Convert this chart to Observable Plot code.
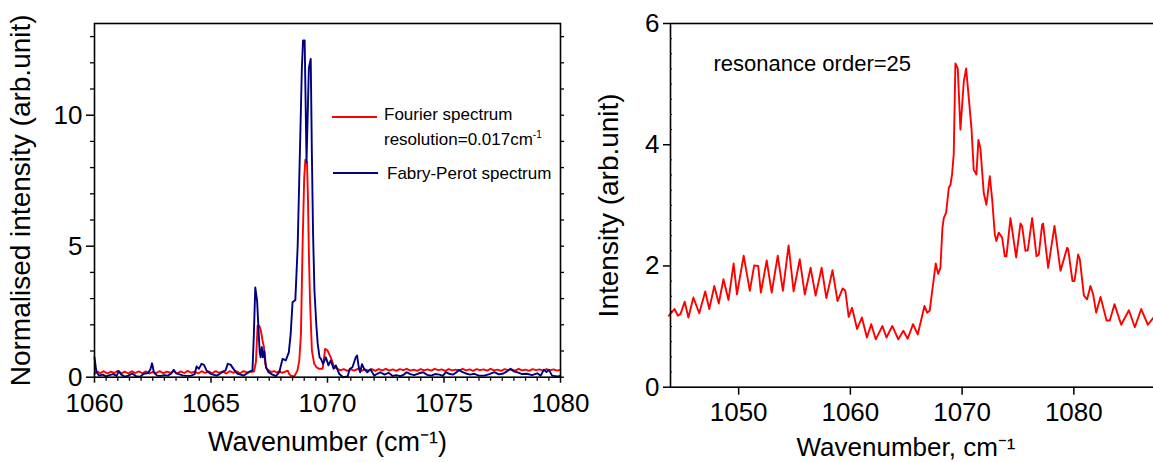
<!DOCTYPE html>
<html>
<head>
<meta charset="utf-8">
<script src="https://cdn.jsdelivr.net/npm/d3@7"></script>
<script src="https://cdn.jsdelivr.net/npm/@observablehq/plot@0.6"></script>
<style>
  html, body { margin: 0; padding: 0; background: #fff; }
  body { font-family: "Liberation Sans", Arial, sans-serif; }
  #wrap { position: relative; width: 1153px; height: 462px; overflow: hidden; background: #fff; }
  #left { position: absolute; left: 0; top: 0; }
  #right { position: absolute; left: 580px; top: 0; width: 573px; overflow: hidden; }
  .lg { position: absolute; font-size: 17px; line-height: 17px; white-space: nowrap; color: #000; }
  .sw { position: absolute; height: 2px; width: 45px; }
  .lg sup { font-size: 10px; vertical-align: 7px; line-height: 0; }
</style>
</head>
<body>
<div id="wrap">
  <div id="left"></div>
  <div id="right"></div>
  <div class="sw" style="left:332px;top:115.7px;background:#ff0000"></div>
  <div class="lg" style="left:384px;top:105.6px">Fourier spectrum</div>
  <div class="lg" style="left:384px;top:130.6px">resolution=0.017cm<sup>-1</sup></div>
  <div class="sw" style="left:333px;top:171.7px;background:#000080"></div>
  <div class="lg" style="left:387px;top:165px">Fabry-Perot spectrum</div>
</div>
<script>
// ---------- Left panel data ----------
const fourierWave = [
  1060.00,1060.12,1060.25,1060.40,1060.55,1060.70,1060.85,1061.00,1061.15,1061.30,
  1061.45,1061.60,1061.75,1061.90,1062.05,1062.20,1062.35,1062.50,1062.65,1062.80,
  1062.95,1063.10,1063.25,1063.40,1063.55,1063.70,1063.85,1064.00,1064.15,1064.30,
  1064.45,1064.60,1064.75,1064.90,1065.05,1065.20,1065.35,1065.50,1065.65,1065.80,
  1065.95,1066.10,1066.25,1066.40,1066.55,1066.70,1066.85,1066.93,1067.00,1067.07,
  1067.14,1067.21,1067.27,1067.33,1067.39,1067.50,1067.60,1067.71,1067.82,1067.93,
  1068.04,1068.14,1068.29,1068.36,1068.43,1068.57,1068.71,1068.79,1068.86,1068.93,
  1069.00,1069.05,1069.12,1069.16,1069.20,1069.25,1069.33,1069.43,1069.53,1069.64,
  1069.79,1069.86,1069.90,1070.00,1070.14,1070.29,1070.43,1070.55,1070.70,1070.85,
  1071.00,1071.15,1071.30,1071.45,1071.60,1071.75,1071.90,1072.05,1072.20,1072.35,
  1072.50,1072.65,1072.80,1072.95,1073.10,1073.25,1073.40,1073.55,1073.70,1073.85,
  1074.00,1074.15,1074.30,1074.45,1074.60,1074.75,1074.90,1075.05,1075.20,1075.35,
  1075.50,1075.65,1075.80,1075.95,1076.10,1076.25,1076.40,1076.55,1076.70,1076.85,
  1077.00,1077.15,1077.30,1077.45,1077.60,1077.75,1077.90,1078.05,1078.20,1078.35,
  1078.50,1078.65,1078.80,1078.95,1079.10,1079.25,1079.40,1079.55,1079.70,1079.85,
  1080.00
];
const fourierInt = [
  0.13,0.22,0.15,0.23,0.14,0.21,0.16,0.24,0.15,0.21,
  0.14,0.23,0.16,0.22,0.15,0.22,0.14,0.20,0.16,0.23,
  0.15,0.21,0.17,0.23,0.14,0.22,0.16,0.24,0.17,0.21,
  0.14,0.23,0.16,0.22,0.15,0.23,0.17,0.21,0.14,0.23,
  0.17,0.22,0.15,0.23,0.18,0.21,0.22,0.60,1.97,1.97,
  1.78,1.40,1.15,0.51,0.32,0.25,0.20,0.23,0.18,0.23,
  0.17,0.19,0.25,0.12,0.06,0.03,0.25,0.64,1.65,5.00,
  7.60,8.30,8.20,6.90,4.80,2.90,1.02,0.51,0.38,0.32,
  0.32,0.80,1.08,1.02,0.76,0.38,0.32,0.26,0.31,0.24,
  0.30,0.25,0.32,0.24,0.30,0.26,0.31,0.24,0.31,0.26,
  0.32,0.25,0.30,0.24,0.31,0.27,0.32,0.25,0.29,0.24,
  0.31,0.26,0.30,0.25,0.32,0.27,0.30,0.24,0.31,0.26,
  0.29,0.25,0.32,0.26,0.30,0.24,0.31,0.27,0.30,0.25,
  0.32,0.26,0.29,0.24,0.31,0.27,0.30,0.25,0.32,0.26,
  0.29,0.24,0.31,0.27,0.30,0.25,0.31,0.26,0.30,0.25,
  0.28
];
const fpWave = [
  1060.00,1060.08,1060.20,1060.35,1060.50,1060.65,1060.80,1060.95,1061.04,1061.15,
  1061.30,1061.45,1061.62,1061.78,1061.95,1062.12,1062.30,1062.40,1062.47,1062.55,
  1062.69,1062.85,1063.00,1063.15,1063.30,1063.40,1063.50,1063.62,1063.78,1063.98,
  1064.15,1064.30,1064.38,1064.48,1064.59,1064.70,1064.81,1064.98,1065.12,1065.26,
  1065.40,1065.52,1065.62,1065.72,1065.84,1065.98,1066.12,1066.27,1066.40,1066.55,
  1066.70,1066.78,1066.84,1066.90,1066.98,1067.04,1067.09,1067.13,1067.18,1067.23,
  1067.29,1067.36,1067.47,1067.64,1067.79,1067.93,1068.07,1068.21,1068.34,1068.42,
  1068.50,1068.62,1068.72,1068.80,1068.90,1068.95,1069.02,1069.10,1069.20,1069.28,
  1069.33,1069.38,1069.44,1069.52,1069.58,1069.66,1069.72,1069.81,1069.93,1070.04,
  1070.14,1070.26,1070.36,1070.50,1070.67,1070.86,1070.96,1071.07,1071.21,1071.27,
  1071.33,1071.40,1071.48,1071.57,1071.71,1071.84,1072.00,1072.14,1072.27,1072.45,
  1072.62,1072.80,1072.95,1073.13,1073.28,1073.40,1073.55,1073.72,1073.90,1074.10,
  1074.28,1074.45,1074.62,1074.80,1074.95,1075.08,1075.25,1075.40,1075.55,1075.64,
  1075.78,1075.95,1076.12,1076.30,1076.50,1076.73,1076.95,1077.16,1077.35,1077.55,
  1077.70,1077.85,1078.00,1078.13,1078.35,1078.56,1078.78,1079.00,1079.15,1079.28,
  1079.40,1079.50,1079.64,1079.86,1080.00
];
const fpInt = [
  0.76,0.20,0.06,0.10,0.03,0.08,0.12,0.05,0.23,0.10,
  0.02,0.06,0.14,0.04,0.02,0.13,0.16,0.30,0.53,0.18,
  0.06,0.05,0.08,0.06,0.14,0.28,0.15,0.12,0.07,0.05,
  0.06,0.12,0.41,0.32,0.51,0.47,0.25,0.13,0.09,0.06,
  0.14,0.22,0.25,0.51,0.48,0.30,0.14,0.10,0.06,0.15,
  0.23,0.25,1.65,3.43,2.90,1.80,0.95,0.76,1.15,0.76,
  1.00,0.38,0.19,0.10,0.04,0.19,0.70,0.64,0.95,1.65,
  2.86,2.95,5.00,8.00,11.80,12.85,12.85,8.20,11.80,12.15,
  8.50,5.50,3.30,2.00,1.27,0.76,0.70,0.51,0.76,0.45,
  0.64,0.32,0.45,0.13,0.00,0.03,0.32,0.38,0.75,0.83,
  0.45,0.19,0.50,0.32,0.19,0.30,0.06,0.13,0.19,0.10,
  0.17,0.05,0.08,0.04,0.10,0.19,0.12,0.08,0.14,0.19,
  0.09,0.06,0.12,0.10,0.05,0.19,0.12,0.10,0.20,0.28,
  0.20,0.14,0.10,0.13,0.06,0.06,0.12,0.19,0.11,0.14,
  0.22,0.32,0.22,0.19,0.12,0.13,0.08,0.15,0.06,0.28,
  0.20,0.28,0.06,0.03,0.05
];
const leftXTicks = [1060, 1065, 1070, 1075, 1080];
const leftYTicks = [0, 5, 10];

// ---------- Right panel data ----------
const orderWave = [
  1043.75,1044.26,1044.56,1044.80,1045.17,1045.50,1045.95,1046.47,1047.01,1047.37,
  1047.82,1048.22,1048.64,1049.09,1049.55,1049.85,1050.45,1051.00,1051.39,1051.75,
  1051.99,1052.51,1052.96,1053.50,1053.96,1054.47,1054.92,1055.47,1055.92,1056.44,
  1056.89,1057.43,1057.85,1058.40,1058.85,1059.31,1059.55,1059.85,1060.15,1060.60,
  1061.03,1061.48,1061.87,1062.27,1062.87,1063.23,1063.75,1064.29,1064.74,1065.13,
  1065.61,1066.03,1066.63,1066.87,1067.10,1067.25,1067.64,1067.85,1068.06,1068.24,
  1068.36,1068.57,1068.81,1068.96,1069.10,1069.25,1069.40,1069.61,1069.85,1070.15,
  1070.36,1070.60,1070.84,1071.04,1071.28,1071.46,1071.64,1071.94,1072.18,1072.48,
  1072.69,1072.93,1073.07,1073.28,1073.58,1073.82,1073.97,1074.33,1074.84,1075.22,
  1075.37,1075.67,1075.88,1076.27,1076.66,1076.87,1077.16,1077.25,1077.70,1078.27,
  1078.81,1079.40,1079.49,1079.88,1080.06,1080.39,1080.54,1080.90,1081.19,1081.49,
  1081.73,1082.00,1082.39,1082.93,1083.22,1083.64,1084.24,1084.93,1085.46,1086.03,
  1086.63,1087.13
];
const orderInt = [
  1.18,1.29,1.18,1.21,1.41,1.15,1.48,1.22,1.58,1.29,
  1.67,1.38,1.78,1.44,2.04,1.53,2.17,1.59,2.01,2.00,
  1.56,2.09,1.56,2.17,1.59,2.34,1.58,2.11,1.53,1.97,
  1.51,1.97,1.47,1.93,1.42,1.63,1.59,1.16,1.31,0.96,
  1.15,0.82,1.04,0.79,1.01,0.82,1.01,0.79,0.93,0.80,
  1.04,0.87,1.34,1.23,1.26,1.48,2.04,1.87,1.97,2.63,
  2.79,2.88,3.29,3.34,3.51,3.84,5.34,5.26,4.25,5.04,
  5.26,4.77,4.27,3.59,3.51,4.08,3.94,3.20,3.01,3.48,
  3.10,2.52,2.41,2.55,2.47,2.16,2.16,2.79,2.14,2.70,
  2.66,2.25,2.26,2.79,2.16,2.19,2.68,2.70,1.97,2.66,
  1.92,2.30,2.28,1.75,1.75,2.19,2.11,1.51,1.45,1.67,
  1.53,1.23,1.49,1.10,1.10,1.37,1.03,1.27,0.99,1.29,
  1.03,1.15
];
const rightXTicks = [1050, 1060, 1070, 1080];
const rightYTicks = [0, 2, 4, 6];

// ---------- Tables ----------
const fourier = fourierWave.map((w, i) => ({w, v: fourierInt[i]}));
const fabry = fpWave.map((w, i) => ({w, v: fpInt[i]}));
const order = orderWave.map((w, i) => ({w, v: orderInt[i]}));

const FONT = "'Liberation Sans', Arial, Helvetica, sans-serif";
const plain = d => String(d);
const leftMinorX = d3.range(1060, 1080.001, 0.5).filter(t => !leftXTicks.includes(t));
const leftMinorY = d3.range(0, 13.5, 1).filter(t => !leftYTicks.includes(t));
const rightMinorY = d3.range(0, 6.001, 0.25).filter(t => !rightYTicks.includes(t));

const left = Plot.plot({
  width: 610, height: 462,
  marginLeft: 94, marginRight: 50, marginTop: 23, marginBottom: 85.3,
  style: {fontFamily: FONT, background: "transparent", color: "black", overflow: "visible"},
  x: {domain: [1060, 1080]},
  y: {domain: [0, 13.5]},
  marks: [
    Plot.line(fourier, {x: "w", y: "v", stroke: "#ff0000", strokeWidth: 1.9}),
    Plot.line(fabry, {x: "w", y: "v", stroke: "#000080", strokeWidth: 1.9}),
    Plot.frame({stroke: "black", strokeWidth: 1.6}),
    Plot.axisX({ticks: leftXTicks, tickFormat: plain, tickSize: 6, tickPadding: 10.6, fontSize: 26, strokeWidth: 1.5, label: null}),
    Plot.axisX({ticks: leftMinorX, tickSize: 4, tickFormat: () => "", strokeWidth: 1.3, label: null}),
    Plot.axisY({ticks: leftYTicks, tickFormat: plain, tickSize: 8, tickPadding: 4, fontSize: 26, strokeWidth: 1.5, label: null}),
    Plot.axisY({ticks: leftMinorY, tickSize: 4, tickFormat: () => "", strokeWidth: 1.3, label: null}),
    Plot.axisY({anchor: "right", ticks: d3.range(0, 13.5, 1), tickSize: 3, tickFormat: () => "", strokeWidth: 1.3, label: null}),
    Plot.text(["Wavenumber (cm\u207B\u00B9)"], {text: d => d, frameAnchor: "bottom", dy: 65, textAnchor: "middle", lineAnchor: "middle", fontSize: 27}),
    Plot.text(["Normalised intensity (arb.unit)"], {text: d => d, frameAnchor: "left", dx: -73, rotate: -90, textAnchor: "middle", lineAnchor: "middle", fontSize: 28})
  ]
});
document.getElementById("left").append(left);

const right = Plot.plot({
  width: 573, height: 462,
  marginLeft: 90, marginRight: -3, marginTop: 23, marginBottom: 75.3,
  style: {fontFamily: FONT, background: "transparent", color: "black", overflow: "hidden"},
  x: {domain: [1043.9, 1087.4]},
  y: {domain: [0, 6]},
  marks: [
    Plot.line(order, {x: "w", y: "v", stroke: "#ff0000", strokeWidth: 1.9}),
    Plot.frame({stroke: "black", strokeWidth: 1.6}),
    Plot.tickY(rightMinorY, {stroke: "black", strokeWidth: 1, insetRight: 484}),
    Plot.axisX({ticks: rightXTicks, tickFormat: plain, tickSize: 8, tickPadding: 7.8, fontSize: 26, strokeWidth: 1.5, label: null}),
    Plot.axisY({ticks: rightYTicks, tickFormat: plain, tickSize: 7, tickPadding: 4, fontSize: 26, strokeWidth: 1.5, label: null}),
    Plot.text(["resonance order=25"], {text: d => d, frameAnchor: "top-left", dx: 43, dy: 40, textAnchor: "start", lineAnchor: "middle", fontSize: 22}),
    Plot.text(["Wavenumber, cm\u207B\u00B9"], {text: d => d, frameAnchor: "bottom-left", dx: 126, dy: 60, textAnchor: "start", lineAnchor: "middle", fontSize: 26}),
    Plot.text(["Intensity (arb.unit)"], {text: d => d, frameAnchor: "left", dx: -61, rotate: -90, textAnchor: "middle", lineAnchor: "middle", fontSize: 28})
  ]
});
document.getElementById("right").append(right);
</script>
</body>
</html>
